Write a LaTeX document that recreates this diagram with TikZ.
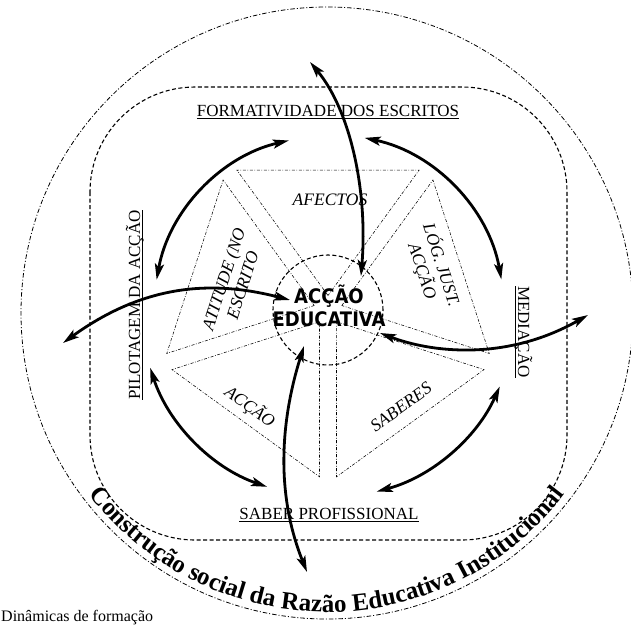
\documentclass[tikz,border=0pt]{standalone}
\usepackage{fontspec}
\setmainfont{Liberation Serif}
\newfontfamily\sansblack{DejaVu Sans Condensed Bold}
\usetikzlibrary{calc,arrows.meta,decorations.text}
\newcommand{\ctfont}{\fontsize{25}{27}\selectfont\bfseries}
\newcommand{\myul}[1]{\setbox0\hbox{#1}\rlap{\rule[-3pt]{\wd0}{0.7pt}}\box0}
\begin{document}
\begin{tikzpicture}[x=1pt,y=1pt,
  >={Stealth[length=16pt,width=9pt,inset=3.5pt]},
  arr/.style={line width=2.8pt,<->},
  tri/.style={line width=0.55pt,dash pattern=on 3pt off 1.6pt on 0.8pt off 1.6pt},
  dashline/.style={line width=1.1pt,dash pattern=on 4pt off 2.5pt},
  lbl/.style={font=\fontsize{17}{19}\selectfont, inner sep=0pt},
  ilbl/.style={font=\fontsize{17.5}{20}\selectfont\itshape, inner sep=0pt, align=center},
]
\useasboundingbox (0,0) rectangle (631,-625);
\clip (0,0) rectangle (631,-625);
\coordinate (C) at (328,-310);
\coordinate (O) at (327,-313);
% outer dash-dot circle
\draw[line width=0.8pt, dash pattern=on 4.5pt off 2pt on 1pt off 2pt] (O) circle[radius=306pt];
% inner dashed rounded rectangle
\draw[dashline,rounded corners=105pt] (90,-87) rectangle (567,-540);
% center circle
\draw[dashline] (C) circle[radius=55pt];
% five triangles
\foreach \b/\aa/\ao/\ba/\bo in {90/126/36/54/144, 18/54/-36/-18/72, -54/-18/-108/-90/0, -126/-90/-180/-162/-72, 162/198/108/126/216}{
  \draw[tri] ($(C)+(\b:14.5pt)$) -- ($(C)+(\aa:166.8pt)+(\ao:8.5pt)$) -- ($(C)+(\ba:166.8pt)+(\bo:8.5pt)$) -- cycle;
}
% labels
\node[lbl,anchor=base] (form) at (328,-116) {\myul{FORMATIVIDADE DOS ESCRITOS}};
\node[lbl,anchor=base,rotate=90] (pilot) at (140,-305) {\myul{PILOTAGEM DA ACÇÃO}};
\node[lbl,anchor=base,rotate=-90] (med) at (518,-332) {\myul{MEDIAÇÃO}};
\node[lbl,anchor=base] (saber) at (329,-519) {\myul{SABER PROFISSIONAL}};
\node[ilbl] (afe) at (330,-200) {AFECTOS};
\node[ilbl,rotate=72] (ati) at (233,-282) {ATITUDE (NO\\ESCRITO};
\node[ilbl,rotate=-72] (log) at (432,-268) {LÓG. JUST.\\ACÇÃO};
\node[ilbl,rotate=-36] (acc) at (250,-407) {ACÇÃO};
\node[ilbl,rotate=36] (sab) at (401,-407) {SABERES};
\node[font=\sansblack\fontsize{20}{22.5}\selectfont, align=center, inner sep=0pt] (ae) at (329,-306) {ACÇÃO\\EDUCATIVA};
\node[anchor=base west, font=\fontsize{16}{18}\selectfont, inner sep=0pt] (din) at (1,-621) {Dinâmicas de formação};
% curved text
\path[decorate,decoration={text along path,text align=center,text={|\ctfont|Construção social da Razão Educativa Institucional}}] ($(O)+(200:299pt)$) arc[start angle=200,end angle=340,radius=299pt];
% arrow end points
\coordinate (t1) at (310,-62);
\coordinate (t2) at (361,-276);
\coordinate (l1) at (63,-343);
\coordinate (l2) at (290,-300);
\coordinate (r1) at (380,-333);
\coordinate (r2) at (588,-315);
\coordinate (b1) at (304,-346);
\coordinate (b2) at (307,-572);
\coordinate (tl) at ($(C)+(170:174pt)$);
\coordinate (tr) at ($(C)+(78:176pt)$);
\coordinate (bl) at ($(C)+(198:187pt)$);
\coordinate (br) at ($(C)+(285:188pt)$);
% arrows
\draw[arr] (t1) .. controls (350,-110) and (368,-190) .. (t2);
\draw[arr] (l1) .. controls (150,-280) and (220,-282) .. (l2);
\draw[arr] (r1) .. controls (430,-352) and (505,-362) .. (r2);
\draw[arr] (b1) .. controls (287,-400) and (270,-480) .. (b2);
\draw[arr] (tl) arc[start angle=170,end angle=103,radius=174pt];
\draw[arr] (tr) arc[start angle=78,end angle=10,radius=176pt];
\draw[arr] (bl) arc[start angle=198,end angle=251,radius=187pt];
\draw[arr] (br) arc[start angle=285,end angle=336,radius=188pt];
\end{tikzpicture}
\end{document}
